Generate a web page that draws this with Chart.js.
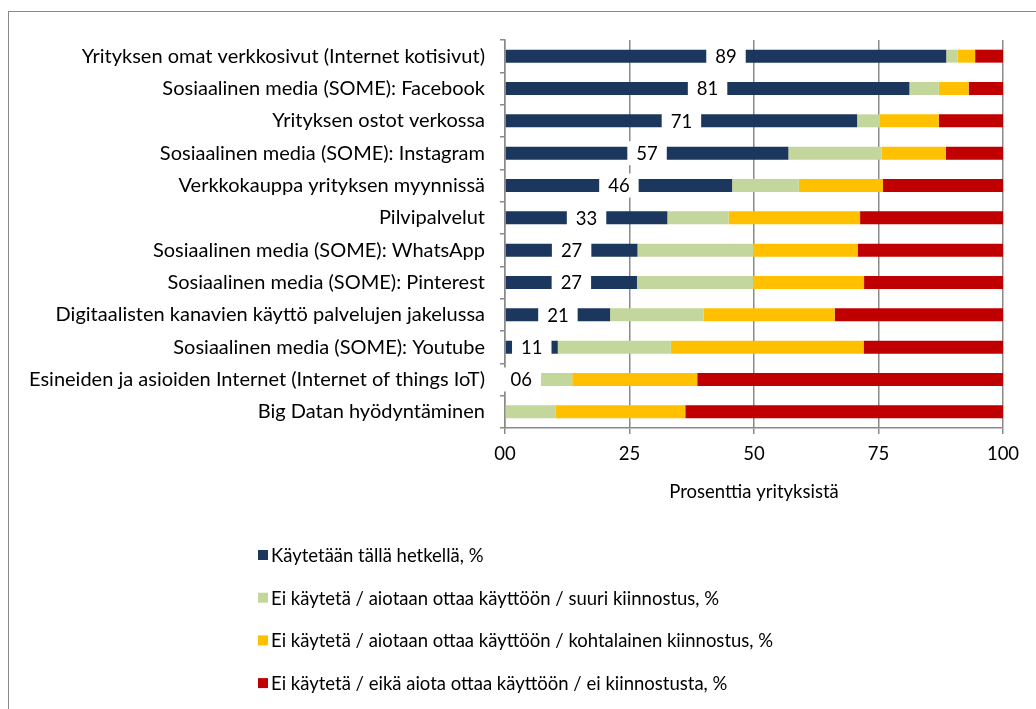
<!DOCTYPE html>
<html lang="fi">
<head>
<meta charset="utf-8">
<title>Digitaalisten kanavien käyttö</title>
<script src="https://cdn.jsdelivr.net/npm/chart.js@4.4.1/dist/chart.umd.min.js"></script>
<style>
  html, body { margin: 0; padding: 0; background: #fff; overflow: hidden; }
  #kehys { position: absolute; left: 8px; top: 11px; width: 1100px; height: 800px; border: 1.5px solid #8a8a8a; }
  #kaavio { position: absolute; left: 0; top: 0; }
</style>
</head>
<body>
<div id="kehys"></div>
<canvas id="kaavio" width="1036" height="709"></canvas>
<script>
// Kategoriat ylhäältä alas
const kategoriat = [
  'Yrityksen omat verkkosivut (Internet kotisivut)',
  'Sosiaalinen media (SOME): Facebook',
  'Yrityksen ostot verkossa',
  'Sosiaalinen media (SOME): Instagram',
  'Verkkokauppa yrityksen myynnissä',
  'Pilvipalvelut',
  'Sosiaalinen media (SOME): WhatsApp',
  'Sosiaalinen media (SOME): Pinterest',
  'Digitaalisten kanavien käyttö palvelujen jakelussa',
  'Sosiaalinen media (SOME): Youtube',
  'Esineiden ja asioiden Internet (Internet of things IoT)',
  'Big Datan hyödyntäminen'
];

const sarjaNimet = [
  'Käytetään tällä hetkellä, %',
  'Ei käytetä / aiotaan ottaa käyttöön / suuri kiinnostus, %',
  'Ei käytetä / aiotaan ottaa käyttöön / kohtalainen kiinnostus, %',
  'Ei käytetä / eikä aiota ottaa käyttöön / ei kiinnostusta, %'
];

const kaytetaan   = [88.6, 81.2, 70.7, 56.9, 45.6, 32.6, 26.6, 26.5, 21.1, 10.6, 6.4, 0];
const suuri       = [2.3, 5.9, 4.6, 18.7, 13.4, 12.3, 23.2, 23.3, 18.8, 22.7, 7.1, 10.2];
const kohtalainen = [3.5, 6.0, 11.8, 12.9, 16.9, 26.4, 21.0, 22.3, 26.3, 38.7, 25.1, 26.0];
const eiKiinnosta = [5.6, 6.9, 12.9, 11.5, 24.1, 28.7, 29.2, 27.9, 33.8, 28.0, 61.4, 63.8];

const xTikit = [0, 25, 50, 75, 100];

const varit = ['#1B375E', '#C3D69B', '#FFC000', '#C00000'];
const FONTTI = 'Lato, "Liberation Sans", sans-serif';
const KOKO = 18.5;

// Muotoilu "00"
function kaksiNumeroa(v) {
  const n = Math.round(v);
  return n < 10 ? '0' + n : String(n);
}

// Valkoiset arvolaatikot ensimmäisen sarjan palkkien keskelle
const arvoLaatikot = {
  id: 'arvoLaatikot',
  afterDraw(chart) {
    const ctx = chart.ctx;
    const meta = chart.getDatasetMeta(0);
    ctx.save();
    ctx.font = KOKO + 'px ' + FONTTI;
    ctx.textAlign = 'center';
    ctx.textBaseline = 'middle';
    meta.data.forEach((palkki, i) => {
      const v = kaytetaan[i];
      if (!v) return;
      const teksti = kaksiNumeroa(v);
      const x = (palkki.x + palkki.base) / 2;
      const w = ctx.measureText(teksti).width + 18;
      ctx.fillStyle = '#fff';
      ctx.fillRect(x - w / 2, palkki.y - 12, w, 24);
      ctx.fillStyle = '#000';
      ctx.fillText(teksti, x, palkki.y + 1);
    });
    ctx.restore();
  }
};

// Selite allekkain kaavion alle
const selite = {
  id: 'selite',
  afterDraw(chart) {
    const ctx = chart.ctx;
    ctx.save();
    ctx.font = KOKO + 'px ' + FONTTI;
    ctx.textBaseline = 'middle';
    chart.data.datasets.forEach((ds, i) => {
      const y = 555 + i * 42.7;
      ctx.fillStyle = ds.backgroundColor;
      ctx.fillRect(258, y - 5, 10, 10);
      ctx.fillStyle = '#000';
      ctx.fillText(ds.label, 271, y + 1);
    });
    ctx.restore();
  }
};

const sarjat = [kaytetaan, suuri, kohtalainen, eiKiinnosta].map((d, i) => ({
  label: sarjaNimet[i],
  data: d,
  backgroundColor: varit[i],
  borderWidth: 0
}));

new Chart(document.getElementById('kaavio'), {
  type: 'bar',
  data: { labels: kategoriat, datasets: sarjat },
  plugins: [arvoLaatikot, selite],
  options: {
    indexAxis: 'y',
    responsive: false,
    animation: false,
    layout: { padding: { left: 0, right: 33, top: 40, bottom: 206 } },
    datasets: { bar: { categoryPercentage: 1, barPercentage: 0.4 } },
    plugins: {
      legend: { display: false },
      tooltip: { enabled: false }
    },
    scales: {
      x: {
        stacked: true,
        min: 0,
        max: 100,
        afterBuildTicks: s => { s.ticks = xTikit.map(v => ({ value: v })); },
        ticks: {
          callback: v => kaksiNumeroa(v),
          font: { family: FONTTI, size: KOKO },
          color: '#000',
          padding: 9,
          maxRotation: 0
        },
        grid: { color: '#8a8a8a', lineWidth: 1.5, tickLength: 6 },
        border: { color: '#8a8a8a', width: 1.5 },
        title: {
          display: true,
          text: 'Prosenttia yrityksistä',
          font: { family: FONTTI, size: KOKO },
          color: '#000',
          padding: { top: 0, bottom: 0 }
        },
        afterFit: s => { s.height = 75; }
      },
      y: {
        stacked: true,
        grid: { drawOnChartArea: false, color: '#8a8a8a', lineWidth: 1.5, tickLength: 5, offset: true },
        border: { color: '#8a8a8a', width: 1.5 },
        ticks: {
          font: { family: FONTTI, size: 20 },
          color: '#000',
          padding: 15,
          autoSkip: false
        },
        afterFit: s => { s.width = 505; }
      }
    }
  }
});
</script>
</body>
</html>
